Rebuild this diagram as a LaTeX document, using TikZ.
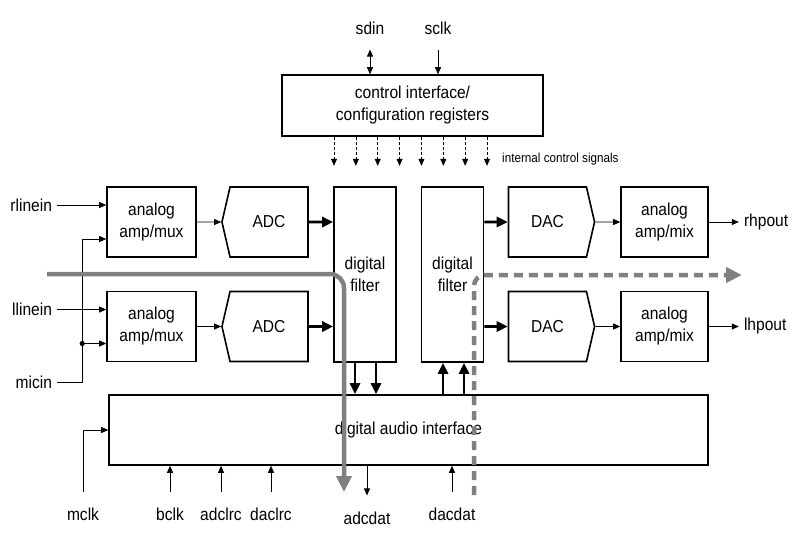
\documentclass[tikz,border=0pt]{standalone}
\usepackage{fontspec}
\setmainfont{Liberation Sans}[FakeStretch=0.9]
\usepackage{tikz}
\usetikzlibrary{shapes.symbols, arrows.meta, positioning}
\tikzstyle{block} = [rectangle, draw, line width=1.6pt, align=center, minimum width=89pt, minimum height=70pt, inner sep=2pt]
\tikzstyle{conv} = [signal, draw, line width=1.6pt, signal pointer angle=154, minimum width=86pt, minimum height=70pt]
\tikzstyle{filter} = [block, minimum width=62pt, minimum height=175pt]
\tikzstyle{lbl} = [inner sep=5pt]
\tikzstyle{arrow} = [line width=0.8pt, ->]
\tikzstyle{bus} = [line width=2.6pt, -{Triangle[length=11pt, width=10pt]}]
\tikzstyle{ctlarrow} = [line width=0.7pt, dash pattern=on 3pt off 2pt, ->]
\tikzstyle{flow} = [line width=4.5pt, draw=black!50, rounded corners=14pt, -{Triangle[length=16pt, width=15pt]}]
\tikzstyle{flowdash} = [flow, dash pattern=on 9pt off 6pt, rounded corners=11pt]

\begin{document}
\begin{tikzpicture}[x=1pt, y=1pt, node distance=104.5pt, >={Triangle[length=7pt, width=6pt]}, font=\fontsize{17.3}{22}\selectfont]
  \useasboundingbox (0,0) rectangle (802,-544);

  % control interface
  \node (ctrl) [block, minimum width=261pt, minimum height=61pt] at (412.5,-105.5) {control interface/\\configuration registers};
  \node (sdin) [lbl] at (370,-28) {sdin};
  \node (sclk) [lbl] at (438,-28) {sclk};
  \draw [arrow, <->, shorten <=10pt] (sdin) -- (sdin |- ctrl.north);
  \draw [arrow, shorten <=10pt] (sclk) -- (sclk |- ctrl.north);
  \foreach \i in {0,...,7}
    \draw [ctlarrow] ([xshift={-78.5+21.86*\i}]ctrl.south) -- ++(0,-29);
  \node (intctl) [anchor=west, inner sep=0pt, font=\fontsize{13}{15}\selectfont] at (502,-159) {internal control signals};

  % analog inputs and ADCs
  \node (ampr) [block] at (151.5,-222) {analog\\amp/mux};
  \node (ampl) [block, below of=ampr] {analog\\amp/mux};
  \node (adcr) [conv, signal to=west, right of=ampr, node distance=117.5pt] {ADC};
  \node (adcl) [conv, signal to=west, right of=ampl, node distance=117.5pt] {ADC};

  % digital filters
  \node (fil1) [filter, right of=adcr, node distance=96pt, yshift=-52.5pt] {digital\\filter};
  \node (fil2) [filter, right of=fil1, node distance=87.5pt] {digital\\filter};

  % DACs and outputs
  \node (dacr) [conv, signal to=east, right of=fil2, node distance=95pt, yshift=52.5pt] {DAC};
  \node (dacl) [conv, signal to=east, below of=dacr] {DAC};
  \node (mixr) [block, minimum width=87pt, right of=dacr, node distance=117pt] {analog\\amp/mix};
  \node (mixl) [block, minimum width=87pt, below of=mixr] {analog\\amp/mix};
  \node (rhpout) [lbl, right=30pt of mixr] {rhpout};
  \node (lhpout) [lbl, right=30pt of mixl] {lhpout};

  % digital audio interface
  \node (dai) [block, minimum width=599pt, minimum height=70pt] at (408.5,-430) {digital audio interface};

  % input labels
  \node (rlinein) [lbl, left=49pt of ampr.west, yshift=17pt] {rlinein};
  \node (llinein) [lbl, left=49pt of ampl.west, yshift=17pt] {llinein};
  \node (micin) [lbl, left=49pt of ampl.west, yshift=-55.5pt] {micin};
  \coordinate (tapr) at ([xshift=-24pt, yshift=-17pt]ampr.west);
  \coordinate (tapl) at ([xshift=-24pt, yshift=-17pt]ampl.west);

  \draw [arrow] (rlinein) -- (rlinein -| ampr.west);
  \draw [arrow] (llinein) -- (llinein -| ampl.west);
  \draw [arrow] (micin) -| (tapr) -- (tapr -| ampr.west);
  \draw [arrow] (tapl) -- (tapl -| ampl.west);
  \fill (tapl) circle (2.6pt);

  \draw [arrow] (ampr) -- (adcr);
  \draw [arrow] (ampl) -- (adcl);
  \draw [bus] (adcr) -- (adcr -| fil1.west);
  \draw [bus] (adcl) -- (adcl -| fil1.west);
  \draw [bus] (dacr -| fil2.east) -- (dacr);
  \draw [bus] (dacl -| fil2.east) -- (dacl);
  \draw [arrow] (dacr) -- (mixr);
  \draw [arrow] (dacl) -- (mixl);
  \draw [arrow] (mixr) -- (rhpout);
  \draw [arrow] (mixl) -- (lhpout);

  \foreach \dx in {-10,11}
    \draw [bus] ([xshift=\dx pt]fil1.south) -- ([xshift=\dx pt]fil1.south |- dai.north);
  \foreach \dx in {-9.5,11.5}
    \draw [bus] ([xshift=\dx pt]fil2.south |- dai.north) -- ([xshift=\dx pt]fil2.south);

  % clocks and data
  \node (mclk) [lbl] at (83,-514) {mclk};
  \node (bclk) [lbl] at (170,-514) {bclk};
  \node (adclrc) [lbl] at (221,-514) {adclrc};
  \node (daclrc) [lbl] at (271,-514) {daclrc};
  \node (adcdat) [lbl] at (367,-518) {adcdat};
  \node (dacdat) [lbl] at (452,-514) {dacdat};
  \draw [arrow, shorten <=10pt] (mclk) |- (dai.west);
  \draw [arrow, shorten <=10pt] (bclk) -- (bclk |- dai.south);
  \draw [arrow, shorten <=10pt] (adclrc) -- (adclrc |- dai.south);
  \draw [arrow, shorten <=10pt] (daclrc) -- (daclrc |- dai.south);
  \draw [arrow, shorten >=11pt] (adcdat |- dai.south) -- (adcdat);
  \draw [arrow, shorten <=10pt] (dacdat) -- (dacdat |- dai.south);

  % signal flow
  \coordinate (adcsrc) at (47,-274);
  \coordinate (adcdst) at (344,-492);
  \coordinate (dacsrc) at (474,-495);
  \coordinate (dacdst) at (742,-275);
  \draw [flow] (adcsrc) -| (adcdst);
  \draw [flowdash] (dacsrc) |- (dacdst);
\end{tikzpicture}
\end{document}
